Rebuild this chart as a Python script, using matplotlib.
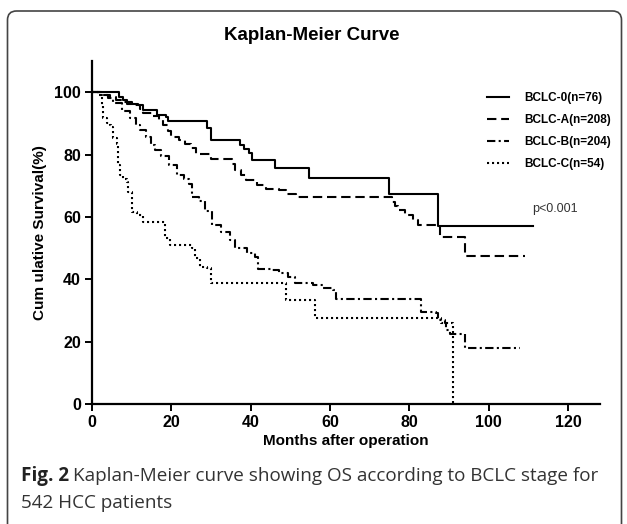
import matplotlib
matplotlib.use('Agg')
import matplotlib.pyplot as plt
from matplotlib.patches import FancyBboxPatch
from matplotlib.transforms import IdentityTransform

plt.rcParams['font.family'] = ['Liberation Sans', 'DejaVu Sans']

# step points (months, survival %)
t_0 = [0, 6.9, 7.9, 8.7, 11.7, 12.9, 16.5, 18.6, 19.2, 29.0, 30.1, 37.4, 38.3, 39.5, 40.2,
       46.1, 54.8, 74.9, 87.2, 111.2]
s_0 = [100, 98.5, 97.4, 96.2, 95.8, 94.4, 92.8, 92.0, 90.9, 88.5, 84.7, 83.2, 81.9, 80.5, 78.2,
       75.8, 72.5, 67.2, 57.1, 57.1]

t_a = [0, 2.5, 4.5, 6.0, 8.0, 10.0, 12.0, 12.9, 15.0, 17.0, 18.0, 19.2, 20.0, 22.0, 23.4,
       25.0, 26.3, 30.1, 35.2, 36.0, 37.6, 38.9, 41.5, 43.8, 47.2, 49.0, 51.4, 75.5, 76.3,
       77.2, 78.8, 80.9, 82.2, 87.7, 94.0, 109.1]
s_a = [100, 99.2, 98.5, 97.6, 96.8, 95.8, 94.6, 93.2, 92.4, 91.0, 89.4, 87.6, 85.7, 84.8, 83.5,
       82.0, 80.3, 78.7, 77.1, 75.0, 73.4, 71.8, 70.2, 69.1, 68.6, 67.5, 66.5, 64.8, 63.4,
       62.2, 60.6, 59.0, 57.4, 53.6, 47.4, 47.4]

t_b = [0, 2.0, 4.0, 5.4, 7.5, 9.6, 11.0, 12.1, 13.5, 14.8, 15.9, 17.5, 19.5, 21.3, 23.2,
       24.5, 25.1, 27.0, 28.6, 30.2, 32.5, 34.8, 36.0, 39.0, 41.0, 41.9, 45.0, 47.0, 49.4,
       51.1, 55.7, 58.3, 60.8, 61.6, 83.0, 86.8, 87.2, 88.9, 89.3, 90.2, 94.0, 107.8]
s_b = [100, 99.0, 98.0, 96.4, 94.0, 91.6, 89.5, 87.8, 85.5, 83.0, 81.4, 79.5, 76.5, 73.4, 72.3,
       70.5, 66.5, 65.0, 62.0, 57.4, 55.0, 52.6, 49.9, 48.5, 47.0, 43.4, 43.0, 42.0, 40.8,
       38.7, 38.1, 37.1, 36.5, 33.6, 29.6, 29.1, 26.9, 25.9, 23.7, 22.6, 17.8, 17.8]

t_c = [0, 1.6, 2.4, 2.8, 3.7, 4.5, 4.9, 5.4, 6.2, 6.6, 7.1, 7.9, 8.7, 9.1, 10.0, 11.3, 12.9,
       18.4, 19.6, 25.1, 25.9, 27.2, 28.9, 30.1, 49.0, 56.2, 88.0, 91.0, 91.0]
s_c = [100, 99.0, 95.8, 91.6, 90.0, 89.4, 88.8, 85.2, 83.5, 76.6, 73.4, 72.3, 71.3, 68.0, 61.6,
       60.6, 58.4, 53.1, 51.0, 49.9, 46.7, 44.0, 43.5, 38.7, 33.3, 27.5, 26.0, 0, 0]

labels = ['BCLC-0(n=76)', 'BCLC-A(n=208)', 'BCLC-B(n=204)', 'BCLC-C(n=54)']
styles = ['-', (0, (4.5, 2.3)), (0, (4, 1.6, 1, 1.6)), (0, (1, 1.4))]
x_ticks = [0, 20, 40, 60, 80, 100, 120]
y_ticks = [0, 20, 40, 60, 80, 100]

fig = plt.figure(figsize=(6.27, 5.24), dpi=100)
ax = fig.add_axes([0.1467, 0.229, 0.8102, 0.6546])

curves = [(t_0, s_0), (t_a, s_a), (t_b, s_b), (t_c, s_c)]
for (t, s), lab, ls in zip(curves, labels, styles):
    ax.step(t, s, where='post', color='black', lw=1.5, linestyle=ls, label=lab)

ax.set_xlim(0, 128)
ax.set_ylim(0, 110)
ax.set_xticks(x_ticks)
ax.set_yticks(y_ticks)
for side in ['top', 'right']:
    ax.spines[side].set_visible(False)
for side in ['left', 'bottom']:
    ax.spines[side].set_linewidth(1.6)
ax.tick_params(width=1.4, length=5, labelsize=11.5, pad=3)
for lbl in ax.get_xticklabels() + ax.get_yticklabels():
    lbl.set_fontweight('bold')

ax.set_xlabel('Months after operation', fontsize=11, fontweight='bold', labelpad=3)
ax.set_ylabel('Cum ulative Survival(%)', fontsize=11, fontweight='bold', labelpad=5)
fig.text(0.497, 0.933, 'Kaplan-Meier Curve', fontsize=13.5, fontweight='bold', ha='center', va='center')

ax.text(111, 62.5, 'p<0.001', fontsize=9, color='#333333', ha='left', va='center')

ax.legend(loc='upper left', bbox_to_anchor=(0.768, 0.835), bbox_transform=fig.transFigure,
          frameon=False, prop={'weight': 'bold', 'size': 8.5},
          handlelength=1.8, handletextpad=1.3, labelspacing=0.85, borderpad=0)

# caption under the chart
r = fig.canvas.get_renderer()
cap_font = ['Open Sans', 'DejaVu Sans']
cap1 = fig.text(21 / 627, 1 - 476 / 524, 'Fig. 2', fontsize=13.6, fontweight='bold',
                family=cap_font, va='center', color='#222222')
bb = cap1.get_window_extent(renderer=r)
fig.text((bb.x1 + 4) / 627, 1 - 476 / 524,
         'Kaplan-Meier curve showing OS according to BCLC stage for',
         fontsize=13.6, family=cap_font, va='center', color='#333333')
fig.text(21 / 627, 1 - 503 / 524, '542 HCC patients', fontsize=13.6,
         family=cap_font, va='center', color='#333333')

# rounded frame round the figure
frame = FancyBboxPatch((7.5, -30), 614, 524 - 11 + 30, boxstyle='round,pad=0,rounding_size=9',
                       transform=IdentityTransform(), fill=False, edgecolor='#444444', lw=1.2)
fig.add_artist(frame)

fig.savefig('out.png', dpi=100)
